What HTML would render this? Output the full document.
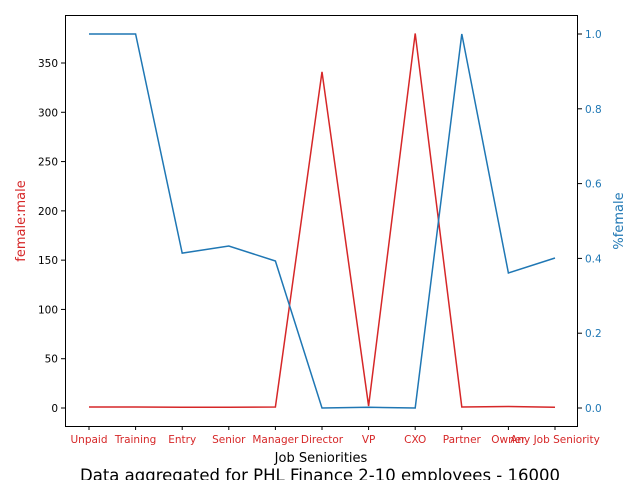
<!DOCTYPE html>
<html><head><meta charset="utf-8"><style>
body{margin:0;background:#fff;}
svg text{font-family:"DejaVu Sans","Liberation Sans",sans-serif;}
</style></head><body>
<svg id="chart" width="640" height="480" viewBox="0 0 640 480">
<rect x="0" y="0" width="640" height="480" fill="#fff"/>
<g id="marks"></g>
<rect x="65.5" y="15.5" width="512" height="411" fill="none" stroke="#000" stroke-width="1"/>
<g id="xticks"></g><g id="lticks"></g><g id="rticks"></g>
<text x="321" y="462" font-size="13" text-anchor="middle">Job Seniorities</text>
<text x="0" y="0" font-size="13" fill="#d62728" text-anchor="middle" transform="translate(25,221) rotate(-90)">female:male</text>
<text x="0" y="0" font-size="13" fill="#1f77b4" text-anchor="middle" transform="translate(623,221) rotate(-90)">%female</text>
<text x="320" y="481" font-size="16.5" text-anchor="middle">Data aggregated for PHL Finance 2-10 employees - 16000</text>
</svg>
<script>
const categories=["Unpaid","Training","Entry","Senior","Manager","Director","VP","CXO","Partner","Owner","Any Job Seniority"];
const ratioValues=[1,1,0.7,0.8,1,341,2,380,1,1.5,0.7];
const pctFemale=[1,1,0.414,0.433,0.393,0,0.002,0,1,0.361,0.401];
const leftTicks=[0,50,100,150,200,250,300,350];
const rightTicks=[0,0.2,0.4,0.6,0.8,1.0];
const NS="http://www.w3.org/2000/svg";
const x=i=>89+i*46.6;
const yL=v=>408-v*(345/350);
const yR=v=>408-v*374;
function mk(tag,attrs,parent){const e=document.createElementNS(NS,tag);for(const k in attrs)e.setAttribute(k,attrs[k]);document.getElementById(parent).appendChild(e);return e;}
const red=mk("polyline",{points:ratioValues.map((v,i)=>x(i)+","+yL(v)).join(" "),fill:"none",stroke:"#d62728","stroke-width":1.5},"marks");


const blue=mk("polyline",{points:pctFemale.map((v,i)=>x(i)+","+yR(v)).join(" "),fill:"none",stroke:"#1f77b4","stroke-width":1.5},"marks");


categories.forEach((c,i)=>{
 mk("line",{x1:x(i),x2:x(i),y1:426,y2:430,stroke:"#000"},"xticks");
 const t=mk("text",{x:x(i),y:443,"font-size":10.5,fill:"#d62728","text-anchor":"middle"},"xticks");
 t.textContent=c;
 
 
});
leftTicks.forEach(v=>{
 mk("line",{x1:61,x2:65,y1:yL(v),y2:yL(v),stroke:"#000"},"lticks");
 const t=mk("text",{x:58,y:yL(v)+4,"font-size":10.5,"text-anchor":"end"},"lticks");
 t.textContent=v;
 
 
});
rightTicks.forEach(v=>{
 mk("line",{x1:578,x2:582,y1:yR(v),y2:yR(v),stroke:"#000"},"rticks");
 const t=mk("text",{x:585,y:yR(v)+4,"font-size":10.5,fill:"#1f77b4"},"rticks");
 t.textContent=v.toFixed(1);
 
 
});
</script>
</body></html>
